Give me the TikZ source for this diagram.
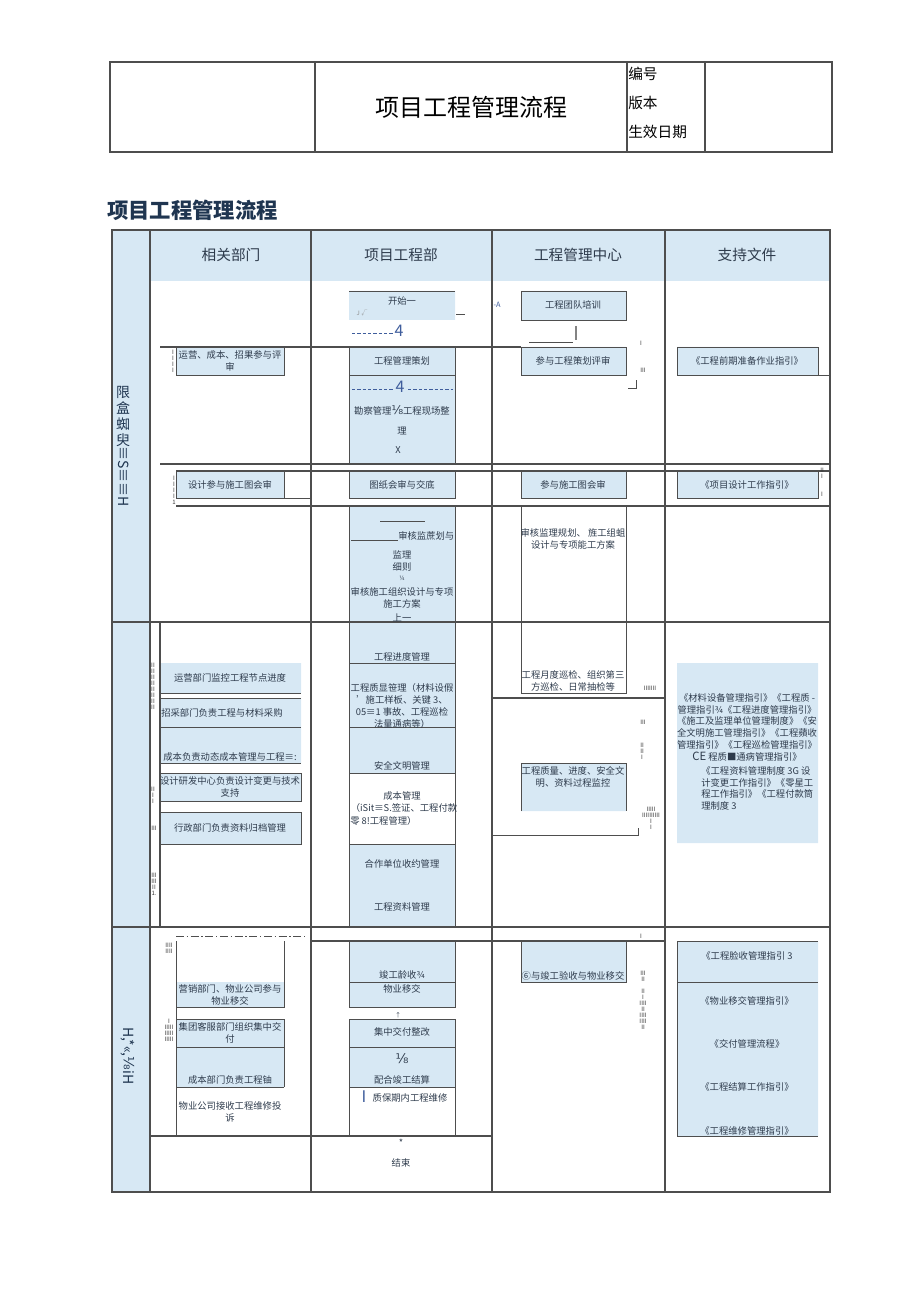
\documentclass[tikz,border=0pt]{standalone}
\usepackage{fontspec}
\setmainfont{Noto Sans CJK SC}
\newfontfamily\symfont{DejaVu Sans}
\definecolor{cellblue}{HTML}{D7E8F4}
\definecolor{gridgrey}{HTML}{4E4E4E}
\definecolor{inkgrey}{HTML}{2E3B4C}
\definecolor{markblue}{HTML}{3F5D9C}
\definecolor{titlenavy}{HTML}{1F3550}
\tikzset{
  grid/.style={draw=gridgrey, line width=0.8pt},
  edge/.style={draw=gridgrey, line width=0.7pt},
  bluedash/.style={draw=markblue, line width=0.6pt, dash pattern=on 2.5pt off 1.5pt},
  txt/.style={font=\fontsize{7}{9}\selectfont, text=inkgrey, align=center, inner sep=0pt},
  head/.style={font=\fontsize{11}{13}\selectfont, text=inkgrey, inner sep=0pt},
  glyph/.style={font=\fontsize{4.5}{4.5}\selectfont, text=black!80, inner sep=0pt, align=center},
  bluemark/.style={font=\fontsize{7}{9}\selectfont, text=markblue, inner sep=0pt}
}
\begin{document}
\begin{tikzpicture}[x=0.75pt,y=-0.75pt]
\useasboundingbox (0,0) rectangle (920,1301);
% header block
\draw[grid] (110,62) rectangle (832,152)
(315,62) -- (315,152)
(627,62) -- (627,152)
(705,62) -- (705,152);
\node[font=\fontsize{18}{20}\selectfont, inner sep=0pt] (doctitle) at (471,107) {项目工程管理流程};
\node[head, text=black, anchor=west] (docno) at (628,74) {编号};
\node[head, text=black, anchor=west] (docver) at (628,103) {版本};
\node[head, text=black, anchor=west] (docdate) at (628,132) {生效日期};
\node[font=\bfseries\fontsize{16}{18}\selectfont, text=titlenavy, inner sep=0pt, anchor=west] (flowtitle) at (107,210) {项目工程管理流程};
% fills
\fill[cellblue] (112,230) rectangle (150,1192) (150,230) rectangle (830,281)
(176,347) rectangle (284,375) (176,471) rectangle (284,498)
(160,663) rectangle (301,693) (160,698) rectangle (301,763)
(160,773) rectangle (301,801) (160,812) rectangle (301,844)
(176,982) rectangle (284,1007) (176,1019) rectangle (284,1087)
(349,291) rectangle (455,320) (349,347) rectangle (455,464)
(349,471) rectangle (455,498) (349,506) rectangle (455,773)
(349,844) rectangle (455,927) (349,941) rectangle (455,1007)
(349,1019) rectangle (455,1087)
(521,291) rectangle (626,320) (521,347) rectangle (626,375)
(521,471) rectangle (626,498) (521,763) rectangle (626,811)
(521,941) rectangle (626,982)
(677,347) rectangle (818,375) (677,471) rectangle (818,498)
(677,663) rectangle (818,843) (677,941) rectangle (818,1136);
% table grid
\draw[grid] (112,230) rectangle (830,1192)
(150,230) -- (150,1192)
(311,230) -- (311,1192)
(492,230) -- (492,1192)
(665,230) -- (665,1192)
(160,622) -- (160,927)
(160,347) -- (521,347)
(160,464) -- (830,464)
(176,471) -- (830,471)
(176,506) -- (830,506)
(112,622) -- (830,622)
(492,698) -- (665,698)
(112,927) -- (830,927)
(311,941) -- (665,941)
(150,1136) -- (492,1136);
\draw[gridgrey, line width=0.5pt, dash pattern=on 6pt off 2pt on 1pt off 2pt] (176,936) -- (307,936);
% box edges
\draw[edge] (176,347) rectangle (284,375)
(176,471) rectangle (284,498)
(284,498) -- (311,498)
(160,693) -- (301,693)
(160,698) -- (301,698)
(160,727) -- (301,727)
(160,763) -- (301,763)
(160,773) rectangle (301,801)
(160,812) rectangle (301,844)
(176,941) -- (176,1136)
(284,941) -- (284,1007) -- (176,1007)
(176,1019) -- (284,1019) -- (284,1087)
(176,1047) -- (284,1047)
(176,1087) -- (284,1087)
(349,291) -- (455,291)
(349,347) -- (349,464) (455,347) -- (455,464)
(349,375) -- (455,375)
(349,471) -- (349,498) -- (455,498) -- (455,471)
(349,506) -- (349,927) (455,506) -- (455,927)
(349,663) -- (455,663) (349,727) -- (455,727)
(349,773) -- (455,773) (349,844) -- (455,844)
(349,941) -- (349,1007) -- (455,1007) -- (455,941)
(349,982) -- (455,982)
(349,1136) -- (349,1019) -- (455,1019) -- (455,1136)
(349,1047) -- (455,1047) (349,1087) -- (455,1087)
(521,291) rectangle (626,320)
(521,347) rectangle (626,375)
(521,471) rectangle (626,498)
(521,506) -- (521,693) -- (626,693) -- (626,506)
(521,811) -- (521,763) -- (626,763) -- (626,811)
(492,835) -- (638,835) -- (638,828)
(521,941) -- (521,982) -- (626,982) -- (626,941)
(677,347) rectangle (818,375) (818,375) -- (830,375)
(677,471) rectangle (818,498)
(677,1136) -- (677,941) -- (818,941)
(677,982) -- (818,982) (677,1136) -- (818,1136)
(456,314) -- (465,314)
(529,342) -- (573,342)
(628,388) -- (636,388) -- (636,380)
(380,521) -- (425,521)
(351,540) -- (398,540);
\draw[gridgrey!70, line width=1.5pt] (576,326) -- (576,340);
\draw[bluedash] (352,333) -- (393,333)
(352,389) -- (393,389)
(408,389) -- (453,389);
% column heads
\node[head] (hdDept) at (231,255) {相关部门};
\node[head] (hdProj) at (401,255) {项目工程部};
\node[head] (hdCentre) at (578,255) {工程管理中心};
\node[head] (hdDocs) at (747,255) {支持文件};
% phase labels
\node[font=\fontsize{10.5}{12}\selectfont, text=titlenavy, align=center, inner sep=0pt, anchor=north] (phaseA) at (123,386) {限\\盒\\蜘\\臾};
\node[font=\fontsize{10.5}{12}\selectfont, text=titlenavy, inner sep=0pt, rotate=-90, anchor=west] (phaseAb) at (124,446) {≡S≡≡H};
\node[font=\fontsize{10.5}{12}\selectfont, text=titlenavy, inner sep=0pt, rotate=-90] (phaseC) at (128,1056) {H,*«,{\symfont ⅛}iH};
% related departments
\node[txt] (opsReview) at (230,361) {运营、成本、招果参与评\\审};
\node[txt] (designReview) at (230,485) {设计参与施工图会审};
\node[txt] (opsProgress) at (230,678) {运营部门监控工程节点进度};
\node[txt, anchor=west] (purchase) at (161,713) {招采部门负责工程与材料采购};
\node[txt] (costDyn) at (230,757) {成本负责动态成本管理与工程≡:};
\node[txt] (rndChange) at (230,787) {设计研发中心负责设计变更与技术\\支持};
\node[txt] (adminFile) at (230,828) {行政部门负责资料归档管理};
\node[txt] (salesHand) at (230,995) {营销部门、物业公司参与\\物业移交};
\node[txt] (serviceHand) at (230,1033) {集团客服部门组织集中交\\付};
\node[txt] (costSettle) at (230,1080) {成本部门负责工程铀};
\node[txt] (propRepair) at (230,1112) {物业公司接收工程维修投\\诉};
% project department
\node[txt] (start) at (402,301) {开始一};
\node[glyph, text=black!45] (startTick) at (362,313) {J √};
\node[bluemark, font=\fontsize{12}{12}\selectfont] (startFour) at (399,331) {4};
\node[txt] (planning) at (402,361) {工程管理策划};
\node[bluemark, font=\fontsize{12}{12}\selectfont] (planFour) at (400,387) {4};
\node[txt] (survey) at (402,410) {勘察管理{\symfont\fontsize{9}{9}\selectfont ⅛}工程现场整};
\node[txt] (surveyEnd) at (402,431) {理};
\node[txt] (surveyX) at (398,450) {X};
\node[txt] (drawings) at (402,485) {图纸会审与交底};
\node[txt, anchor=west] (supvPlan) at (398,536) {审核监蔗划与};
\node[txt] (supvRule) at (402,561) {监理\\细则};
\node[glyph, text=inkgrey] (supvQuarter) at (402,578) {¼};
\node[txt] (constPlan) at (402,598) {审核施工组织设计与专项\\施工方案};
\node[txt] (constUp) at (402,618) {上一};
\node[txt] (progress) at (402,657) {工程进度管理};
\node[txt, font=\fontsize{7}{8.8}\selectfont] (quality) at (402,706) {工程质显笹理（材料设假\\'施工样板、关键 3、\\05≡1 事故、工程巡检\\法量通病等）};
\node[txt] (safety) at (402,766) {安全文明管理};
\node[txt] (costMgmt) at (402,796) {成本管理};
\node[txt] (costMgmtB) at (404,808) {（iSit≡S.签证、工程付款};
\node[txt, anchor=west] (costMgmtC) at (350,821) {零 8!工程管理）};
\node[txt] (contract) at (402,864) {合作单位收约管理};
\node[txt] (records) at (402,907) {工程资料管理};
\node[txt] (accept) at (402,975) {竣工龄收¾};
\node[txt] (handover) at (402,989) {物业移交};
\node[glyph, text=inkgrey] (upTick) at (398,1015) {↑};
\node[txt] (rectify) at (402,1032) {集中交付整改};
\node[txt, font=\symfont\fontsize{10}{10}\selectfont] (settleMark) at (402,1059) {⅛};
\node[txt] (settle) at (402,1080) {配合竣工结算};
\node[bluemark, font=\fontsize{12}{12}\selectfont] (warrantyI) at (364,1097) {I};
\node[txt] (warranty) at (410,1098) {质保期内工程维修};
\node[txt] (endStar) at (401,1143) {*};
\node[txt] (finish) at (401,1163) {结束};
% management centre
\node[bluemark, font=\fontsize{5.5}{6}\selectfont] (arrowA) at (497,305) {-A};
\node[txt] (training) at (573,305) {工程团队培训};
\node[txt] (planReview) at (573,361) {参与工程策划评审};
\node[txt] (drawReview) at (573,485) {参与施工图会审};
\node[txt] (supvCheck) at (573,539) {审核监理规划、 旌工组蛆\\设计与专项能工方案};
\node[txt] (inspection) at (573,681) {工程月度巡检、组织第三\\方巡检、日常抽检等};
\node[txt] (monitoring) at (573,777) {工程质量、进度、安全文\\明、资料过程监控};
\node[txt] (acceptance) at (573,976) {⑥与竣工验收与物业移交};
% support documents
\node[txt] (prepGuide) at (747,361) {《工程前期准备作业指引》};
\node[txt] (designGuide) at (747,485) {《项目设计工作指引》};
\node[txt, font=\fontsize{7}{8.9}\selectfont, anchor=north] (guideList) at (747,693) {《材料设备管理指引》《工程质 -\\管理指引¾《工程进度管理指引》\\《施工及监理单位管理制度》《安\\全文明施工管理指引》《工程蘋收\\管理指引》《工程巡检管理指引》\\{\fontsize{8.5}{8.9}\selectfont CE} 程质■通病管理指引》};
\node[txt, font=\fontsize{7}{8.9}\selectfont, anchor=north west, align=left] (guideListB) at (701,766) {《工程资料管理制度 3G 设\\计变更工作指引》《零星工\\程工作指引》《工程付款筒\\理制度 3};
\node[txt] (acceptGuide) at (747,956) {《工程脸收管理指引 3};
\node[txt] (handGuide) at (747,1001) {《物业移交管理指引》};
\node[txt] (deliveryFlow) at (747,1044) {《交付管理流程》};
\node[txt] (settleGuide) at (747,1087) {《工程结算工作指引》};
\node[txt] (repairGuide) at (747,1131) {《工程维修管理指引》};
% stray marks
\node[glyph] (tickA) at (641,343) {I};
\node[glyph] (tickB) at (643,370) {III};
\node[glyph] (tickC) at (650,688) {IIIIIII};
\node[glyph] (tickD) at (643,722) {III};
\node[glyph] (tickE) at (642,751) {II\\II\\I};
\node[glyph] (tickF) at (651,818) {IIIII\\IIIIIIIIII\\I\\I};
\node[glyph] (tickG) at (641,936) {I};
\node[glyph] (tickH) at (643,1000) {III\\II\\ \\II\\I\\IIII\\II\\IIII\\IIII\\II};
\node[glyph] (tickI) at (822,482) {II\\I\\ \\ \\I};
\node[glyph] (tickJ) at (153,686) {II\\II\\II\\II\\II\\II\\II\\II};
\node[glyph] (tickK) at (153,795) {II\\I\\I};
\node[glyph] (tickL) at (154,828) {III};
\node[glyph] (tickM) at (154,884) {III\\III\\II\\1.};
\node[glyph] (tickN) at (169,948) {IIII\\IIII};
\node[glyph] (tickO) at (169,1030) {I\\IIIII\\IIIII\\IIIII};
\node[glyph] (tickP) at (173,361) {I\\I\\I\\I};
\node[glyph] (tickQ) at (174,490) {I\\I\\I\\I\\1};
\end{tikzpicture}
\end{document}
